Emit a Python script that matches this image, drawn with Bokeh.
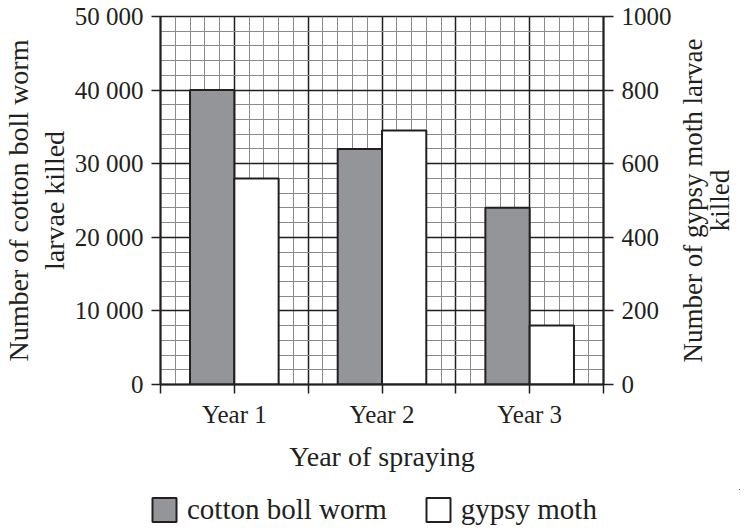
from bokeh.plotting import figure
from bokeh.layouts import column, row
from bokeh.models import (Range1d, LinearAxis, SingleIntervalTicker, FixedTicker,
                          Legend, LegendItem, ColumnDataSource)
from bokeh.embed import file_html
from bokeh.resources import INLINE

# ---- data ----
years = ["Year 1", "Year 2", "Year 3"]
year_pos = [1, 3, 5]
cotton = [40000, 32000, 24000]
gypsy = [560, 690, 160]
left_ticks = [0, 10000, 20000, 30000, 40000, 50000]
left_labels = ["0", "10 000", "20 000", "30 000", "40 000", "50 000"]
right_ticks = [0, 200, 400, 600, 800, 1000]
right_labels = ["0", "200", "400", "600", "800", "1000"]
x_title = "Year of spraying"
left_title = "Number of cotton boll worm\nlarvae killed"
right_title = "Number of gypsy moth larvae\nkilled"
series_names = ["cotton boll worm", "gypsy moth"]

FONT = "Liberation Serif"
TICK_FS = "25px"
TITLE_FS = "28px"
GRAY = "#939598"
INK = "#231f20"

TOP, BOTTOM = 16, 105
P_W = 156 + 443 + 70
P_H = TOP + 368 + BOTTOM

p = figure(frame_width=443, frame_height=368, output_backend="svg", toolbar_location=None,
           x_range=Range1d(0, 6), y_range=Range1d(0, 50000),
           min_border_left=156, min_border_right=70, min_border_top=TOP,
           min_border_bottom=BOTTOM, y_axis_location=None, x_axis_location=None)
p.extra_y_ranges = {"moth": Range1d(0, 1000)}
p.outline_line_color = INK
p.outline_line_width = 1.5
p.background_fill_color = "white"

# grids
p.xgrid.ticker = SingleIntervalTicker(interval=1, num_minor_ticks=5)
p.ygrid.ticker = SingleIntervalTicker(interval=10000, num_minor_ticks=5)
for g in (p.xgrid, p.ygrid):
    g.grid_line_color = INK
    g.grid_line_width = 1.5
    g.minor_grid_line_color = "#8a8a8a"
    g.minor_grid_line_width = 1

cot_src = ColumnDataSource(dict(x=[v - 0.3 for v in year_pos], top=cotton))
gyp_src = ColumnDataSource(dict(x=[v + 0.3 for v in year_pos], top=gypsy))
p.vbar(x="x", top="top", width=0.6, bottom=0, source=cot_src,
       fill_color=GRAY, line_color=INK, line_width=2)
p.vbar(x="x", top="top", width=0.6, bottom=0, source=gyp_src,
       fill_color="white", line_color=INK, line_width=2, y_range_name="moth")

def style(ax):
    ax.axis_line_color = INK
    ax.axis_line_width = 2
    ax.major_tick_line_color = INK
    ax.major_tick_line_width = 1.5
    ax.major_tick_out = 9
    ax.major_tick_in = 0
    ax.minor_tick_line_color = None
    ax.major_label_text_font = FONT
    ax.major_label_text_font_size = TICK_FS
    ax.major_label_text_color = INK
    ax.axis_label_text_font = FONT
    ax.axis_label_text_font_size = TITLE_FS
    ax.axis_label_text_font_style = "normal"
    ax.axis_label_text_color = INK
    ax.axis_label_text_line_height = 1.15

xax = LinearAxis(ticker=FixedTicker(ticks=[0, 1, 2, 3, 4, 5, 6]), axis_label=x_title)
xax.major_label_overrides = {**{i: "" for i in range(7)},
                             **{pos: lab for pos, lab in zip(year_pos, years)}}
style(xax)
xax.major_label_standoff = 7
xax.axis_label_standoff = 10
p.add_layout(xax, "below")

lax = LinearAxis(ticker=FixedTicker(ticks=left_ticks), axis_label=left_title)
lax.major_label_overrides = dict(zip(left_ticks, left_labels))
style(lax)
lax.major_label_standoff = 8
lax.axis_label_standoff = 2
p.add_layout(lax, "left")

rax = LinearAxis(ticker=FixedTicker(ticks=right_ticks), y_range_name="moth")
rax.major_label_overrides = dict(zip(right_ticks, right_labels))
style(rax)
rax.major_tick_out = 10
rax.major_label_standoff = 8
p.add_layout(rax, "right")

# right-hand title panel: a bare axis title that reads bottom-to-top
rt = figure(width=740 - P_W, height=P_H, output_backend="svg", toolbar_location=None,
            x_range=Range1d(0, 1), y_range=Range1d(0, 1),
            x_axis_location=None, y_axis_location=None,
            min_border_left=49, min_border_right=0, min_border_top=TOP,
            min_border_bottom=BOTTOM, outline_line_color=None)
rt.grid.visible = False
tax = LinearAxis(ticker=FixedTicker(ticks=[]), axis_label=right_title)
tax.axis_line_color = None
tax.major_tick_line_color = None
tax.minor_tick_line_color = None
tax.axis_label_standoff = 0
tax.axis_label_text_font = FONT
tax.axis_label_text_font_size = "27px"
tax.axis_label_text_font_style = "normal"
tax.axis_label_text_color = INK
tax.axis_label_text_line_height = 0.9
rt.add_layout(tax, "left")

# legend panel below the chart (swatch renderers lie entirely outside its view)
lg = figure(width=740, height=40, output_backend="svg", toolbar_location=None,
            x_range=Range1d(-3, -2), y_range=Range1d(-3, -2),
            x_axis_location=None, y_axis_location=None,
            min_border=0, outline_line_color=None)
lg.grid.visible = False
k1 = lg.vbar(x=year_pos, top=cotton, width=0.6, bottom=0,
             fill_color=GRAY, line_color=INK, line_width=2)
k2 = lg.vbar(x=year_pos, top=gypsy, width=0.6, bottom=0,
             fill_color="white", line_color=INK, line_width=2)
legend = Legend(items=[LegendItem(label=series_names[0], renderers=[k1]),
                       LegendItem(label=series_names[1], renderers=[k2])],
                orientation="horizontal", location="left",
                glyph_width=30, glyph_height=30, label_standoff=8, spacing=36,
                label_text_font=FONT, label_text_font_size="29px",
                label_text_color=INK, border_line_color=None,
                background_fill_alpha=0, padding=0, margin=149)
lg.add_layout(legend, "center")

layout = column(row(p, rt, spacing=0), lg, spacing=0)
open("out.html", "w").write(file_html(layout, INLINE))
